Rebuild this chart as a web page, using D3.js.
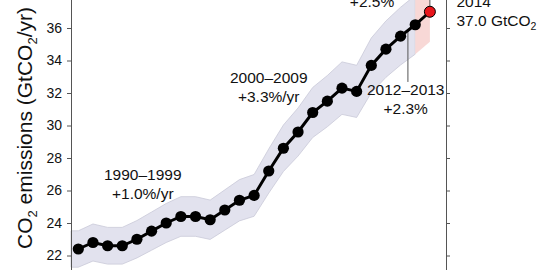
<!DOCTYPE html>
<html>
<head>
<meta charset="utf-8">
<script src="https://cdn.jsdelivr.net/npm/d3@7"></script>
<style>
html,body{margin:0;padding:0;background:#fff;}
svg{display:block;font-family:"Liberation Sans",Arial,Helvetica,sans-serif;}
</style>
</head>
<body>
<svg id="chart" width="550" height="270"></svg>
<script>
// ---- data ----
const years = [1990,1991,1992,1993,1994,1995,1996,1997,1998,1999,2000,2001,2002,2003,2004,2005,2006,2007,2008,2009,2010,2011,2012,2013,2014];
const emissions = [22.4,22.8,22.6,22.6,23.0,23.5,24.0,24.4,24.4,24.2,24.8,25.4,25.7,27.2,28.6,29.6,30.8,31.5,32.3,32.1,33.7,34.7,35.5,36.2,37.0];
const uncertainty = 0.05; // ±5%
const yTicks = [20,22,24,26,28,30,32,34,36,38];
const periodLabels = [
  {lines:["1990–1999","+1.0%/yr"], x:1994.4, y:26.65},
  {lines:["2000–2009","+3.3%/yr"], x:2003.0, y:32.6},
  {lines:["2012–2013","+2.3%"], x:2012.35, y:31.88},
  {lines:["2013–2014","+2.5%"], x:2010.05, y:38.46}
];

const svg = d3.select("#chart");
const x = d3.scaleLinear().domain([1989.5, 2015.1]).range([71, 446]);
const y = d3.scaleLinear().domain([20, 38]).range([288, -4.5]);

// uncertainty band (grey) 1990-2013, extended to the axis
const bandData = years.slice(0, 24).map((yr,i)=>({yr, v:emissions[i]}));
const bandExt = [{yr:1989.5, v:emissions[0]}].concat(bandData);
const area = d3.area()
  .x(d=>x(d.yr))
  .y0(d=>y(d.v*(1-uncertainty)))
  .y1(d=>y(d.v*(1+uncertainty)));
svg.append("path").datum(bandExt)
  .attr("d", area)
  .attr("fill", "#e2e2ee")
  .attr("stroke", "#c9c9d8")
  .attr("stroke-width", 0.8);

// projection band (pink) 2013-2014
const projData = years.slice(23).map((yr,i)=>({yr, v:emissions[23+i]}));
svg.append("path").datum(projData)
  .attr("d", area)
  .attr("fill", "#f8d8d6")
  .attr("stroke", "none");

// axes
const axL = svg.append("g").attr("transform", `translate(${x(1989.5)},0)`)
  .call(d3.axisLeft(y).tickValues(yTicks).tickSize(4).tickSizeOuter(0).tickPadding(5));
const axR = svg.append("g").attr("transform", `translate(${x(2015.1)},0)`)
  .call(d3.axisRight(y).tickValues(yTicks).tickSize(4).tickSizeOuter(0).tickFormat(""));
[axL, axR].forEach(a=>{
  a.select(".domain").attr("stroke", "#555").attr("stroke-width", 1);
  a.selectAll(".tick line").attr("stroke", "#555");
  a.selectAll(".tick text").attr("font-size", 14).attr("fill", "#111")
    .attr("font-family", '"Liberation Sans",Arial,sans-serif');
});

// leader lines
const mid = (emissions[22]+emissions[23])/2;
svg.append("line")
  .attr("x1", x(2012.5)).attr("x2", x(2012.5))
  .attr("y1", y(mid)).attr("y2", y(periodLabels[2].y)-13)
  .attr("stroke", "#555").attr("stroke-width", 1);
svg.append("line")
  .attr("x1", x(2014)).attr("x2", x(2014))
  .attr("y1", y(emissions[24])).attr("y2", y(38))
  .attr("stroke", "#555").attr("stroke-width", 1);

// line + points
const line = d3.line().x((d,i)=>x(years[i])).y(d=>y(d));
svg.append("path").datum(emissions)
  .attr("d", line).attr("fill", "none")
  .attr("stroke", "#000").attr("stroke-width", 3);
svg.selectAll("circle.pt").data(emissions.slice(0,24)).enter().append("circle")
  .attr("class","pt")
  .attr("cx", (d,i)=>x(years[i])).attr("cy", d=>y(d)).attr("r", 5.6)
  .attr("fill", "#000");
svg.append("circle")
  .attr("cx", x(2014)).attr("cy", y(emissions[24])).attr("r", 5.5)
  .attr("fill", "#e8161c").attr("stroke", "#000").attr("stroke-width", 1);

// period annotations
periodLabels.forEach(p=>{
  const t = svg.append("text").attr("text-anchor","middle").attr("font-size",15.5).attr("fill","#111");
  p.lines.forEach((l,j)=>{
    t.append("tspan").attr("x", x(p.x)).attr("y", y(p.y)+j*19).text(l);
  });
});

// 2014 label
const t14 = svg.append("text").attr("font-size",15.5).attr("fill","#111");
t14.append("tspan").attr("x", 456.5).attr("y", y(38)+11).text("2014");
const l2 = t14.append("tspan").attr("x", 456.5).attr("y", y(38)+30);
l2.append("tspan").text(emissions[24].toFixed(1) + " GtCO");
l2.append("tspan").attr("font-size",10.5).attr("dy",4).text("2");

// y-axis title
const yt = svg.append("text")
  .attr("transform", "translate(31.5,128) rotate(-90)")
  .attr("text-anchor","middle").attr("font-size",21).attr("fill","#111");
yt.append("tspan").text("CO");
yt.append("tspan").attr("font-size",13).attr("dy",5).text("2");
yt.append("tspan").attr("dy",-5).text(" emissions (GtCO");
yt.append("tspan").attr("font-size",13).attr("dy",5).text("2");
yt.append("tspan").attr("dy",-5).text("/yr)");
</script>
</body>
</html>
